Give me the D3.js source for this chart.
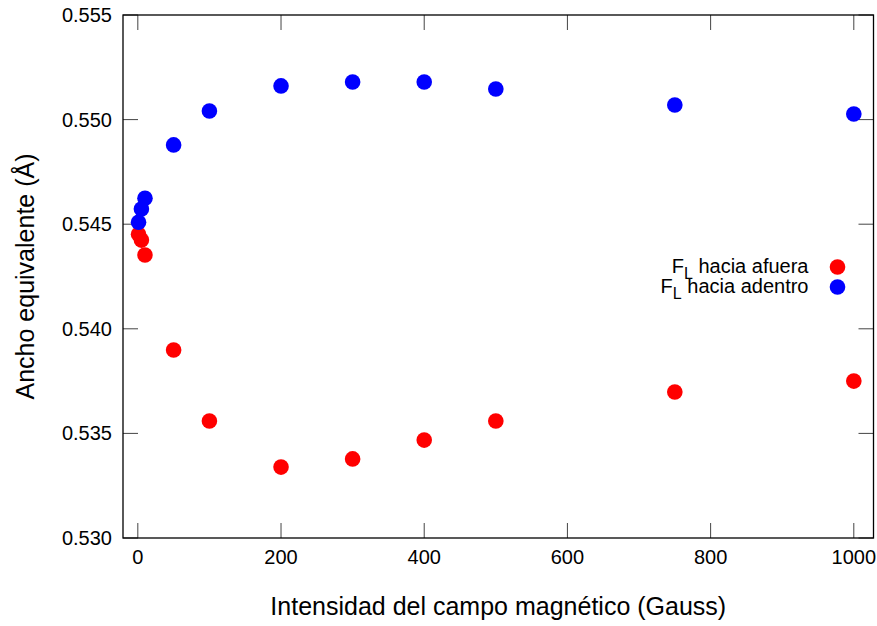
<!DOCTYPE html>
<html>
<head>
<meta charset="utf-8">
<script src="https://cdn.jsdelivr.net/npm/d3@7"></script>
<style>
body { margin: 0; background: #fff; }
text { font-family: "Liberation Sans", Arial, sans-serif; fill: #000; }
</style>
</head>
<body>
<div id="chart"></div>
<script>
var svgWidth = 877;
var svgHeight = 626;

var margin = { top: 15, right: 3.5, bottom: 88, left: 123 };
var width = svgWidth - margin.left - margin.right;
var height = svgHeight - margin.top - margin.bottom;

// data
var fieldValues = [1, 5, 10, 50, 100, 200, 300, 400, 500, 750, 1000];
var outwardValues = [0.54452, 0.54424, 0.54353, 0.53899, 0.53559, 0.53339, 0.53378, 0.53468, 0.53559, 0.53698, 0.53750];
var inwardValues = [0.54509, 0.54573, 0.54624, 0.54879, 0.55041, 0.55161, 0.55180, 0.55180, 0.55146, 0.55070, 0.55027];
var xTicks = [0, 200, 400, 600, 800, 1000];
var yTicks = [0.530, 0.535, 0.540, 0.545, 0.550, 0.555];
var seriesNames = ["hacia afuera", "hacia adentro"];
var seriesColors = ["#ff0000", "#0000ff"];

var svg = d3.select("#chart")
  .append("svg")
  .attr("width", svgWidth)
  .attr("height", svgHeight);

var chartGroup = svg.append("g")
  .attr("transform", `translate(${margin.left}, ${margin.top})`);

var xScale = d3.scaleLinear().domain([-20.7, 1027.5]).range([0, width]);
var yScale = d3.scaleLinear().domain([0.530, 0.555]).range([height, 0]);

// ticks, inward and mirrored
var tickLen = 15;
var tickColor = "#444";
xTicks.forEach(function(t) {
  chartGroup.append("line")
    .attr("x1", xScale(t)).attr("x2", xScale(t))
    .attr("y1", height).attr("y2", height - tickLen)
    .attr("stroke", tickColor).attr("stroke-width", 1);
  chartGroup.append("line")
    .attr("x1", xScale(t)).attr("x2", xScale(t))
    .attr("y1", 0).attr("y2", tickLen)
    .attr("stroke", tickColor).attr("stroke-width", 1);
  chartGroup.append("text")
    .attr("x", xScale(t))
    .attr("y", height + 26)
    .attr("text-anchor", "middle")
    .style("font-size", "20px")
    .text(t);
});

yTicks.forEach(function(t) {
  chartGroup.append("line")
    .attr("x1", 0).attr("x2", tickLen)
    .attr("y1", yScale(t)).attr("y2", yScale(t))
    .attr("stroke", tickColor).attr("stroke-width", 1);
  chartGroup.append("line")
    .attr("x1", width).attr("x2", width - tickLen)
    .attr("y1", yScale(t)).attr("y2", yScale(t))
    .attr("stroke", tickColor).attr("stroke-width", 1);
  chartGroup.append("text")
    .attr("x", -11)
    .attr("y", yScale(t) + 7)
    .attr("text-anchor", "end")
    .style("font-size", "20px")
    .text(d3.format(".3f")(t));
});

// frame
chartGroup.append("rect")
  .attr("x", 0).attr("y", 0)
  .attr("width", width).attr("height", height)
  .attr("fill", "none")
  .attr("stroke", "#000")
  .attr("stroke-width", 1.3);

// points
var seriesValues = [outwardValues, inwardValues];
seriesValues.forEach(function(vals, i) {
  chartGroup.selectAll(".pt" + i)
    .data(fieldValues)
    .enter()
    .append("circle")
    .attr("class", "pt" + i)
    .attr("cx", d => xScale(d))
    .attr("cy", (d, j) => yScale(vals[j]))
    .attr("r", 7.8)
    .attr("fill", seriesColors[i]);
});

// legend
var legend = chartGroup.append("g")
  .attr("transform", `translate(${width - 36}, 252)`);
seriesNames.forEach(function(name, i) {
  var row = legend.append("g").attr("transform", `translate(0, ${i * 20})`);
  row.append("circle")
    .attr("cx", 0).attr("cy", 0)
    .attr("r", 7.8)
    .attr("fill", seriesColors[i]);
  var t = row.append("text")
    .attr("x", -29)
    .attr("y", 6)
    .attr("text-anchor", "end")
    .style("font-size", "20px");
  t.append("tspan").text("F");
  t.append("tspan").attr("dy", 6).style("font-size", "16px").text("L");
  t.append("tspan").attr("dy", -6).text(" " + name);
});

// axis labels
svg.append("text")
  .attr("x", margin.left + width / 2)
  .attr("y", 615)
  .attr("text-anchor", "middle")
  .style("font-size", "25px")
  .text("Intensidad del campo magnético (Gauss)");

svg.append("text")
  .attr("transform", `translate(34, ${margin.top + height / 2}) rotate(-90)`)
  .attr("text-anchor", "middle")
  .style("font-size", "25px")
  .text("Ancho equivalente (Å)");
</script>
</body>
</html>
